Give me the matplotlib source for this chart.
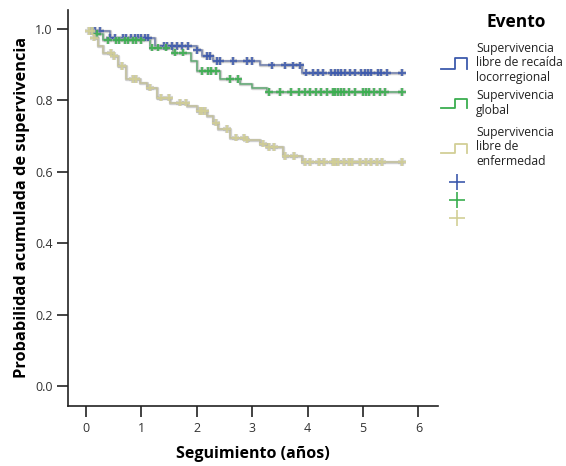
import numpy as np
import matplotlib
matplotlib.use("Agg")
import matplotlib.pyplot as plt
from matplotlib.lines import Line2D
import matplotlib.patheffects as pe

plt.rcParams['font.family'] = ['Open Sans', 'DejaVu Sans']

# ---- data ----
series_names = ["Supervivencia\nlibre de recaída\nlocorregional",
                "Supervivencia\nglobal",
                "Supervivencia\nlibre de\nenfermedad"]
colors = ["#3d5aad", "#3aae4f", "#d2cf96"]
line_colors = ["#6f7fae", "#5fa873", "#c2c09a"]

t_end = 5.7
blue_t = [0.05, 0.43, 1.25, 2.0, 2.1, 2.3, 3.14, 3.9]
blue_s = [0.995, 0.976, 0.953, 0.94, 0.925, 0.91, 0.898, 0.878]
green_t = [0.05, 0.15, 0.3, 1.16, 1.57, 1.9, 2.0, 2.42, 2.78, 2.99, 3.26]
green_s = [0.995, 0.985, 0.968, 0.948, 0.934, 0.91, 0.883, 0.86, 0.846, 0.836, 0.824]
beige_t = [0.05, 0.15, 0.22, 0.3, 0.49, 0.58, 0.73, 0.97, 1.1, 1.28, 1.52, 1.82,
           2.0, 2.18, 2.3, 2.38, 2.6, 2.9, 3.14, 3.26, 3.56, 3.9]
beige_s = [0.995, 0.976, 0.953, 0.934, 0.925, 0.897, 0.86, 0.85, 0.836, 0.808, 0.794, 0.785,
           0.771, 0.757, 0.738, 0.72, 0.696, 0.69, 0.679, 0.669, 0.645, 0.627]

blue_c = [0.16, 0.25, 0.43, 0.52, 0.67, 0.73, 0.82, 0.88, 0.94, 1.0, 1.06, 1.12, 1.40, 1.46,
          1.55, 1.64, 1.73, 1.85, 2.0, 2.18, 2.24, 2.36, 2.42, 2.66, 2.9, 2.99, 3.35, 3.59,
          3.74, 3.86, 3.98, 4.10, 4.19, 4.28, 4.43, 4.49, 4.55, 4.61, 4.67, 4.76, 4.85, 4.97,
          5.03, 5.09, 5.15, 5.27, 5.33, 5.43, 5.70]
green_c = [0.1, 0.2, 0.4, 0.55, 0.6, 0.7, 0.76, 0.85, 0.9, 1.0, 1.2, 1.3, 1.45, 1.6, 1.75,
           2.1, 2.2, 2.25, 2.35, 2.6, 2.75, 3.3, 3.5, 3.7, 3.85, 3.95, 4.05, 4.15, 4.25, 4.35,
           4.45, 4.5, 4.55, 4.6, 4.65, 4.75, 4.85, 5.0, 5.05, 5.1, 5.2, 5.3, 5.4, 5.7]
beige_c = [0.05, 0.1, 0.15, 0.45, 0.5, 0.65, 0.85, 0.9, 1.15, 1.35, 1.5, 1.7, 1.8, 2.05,
           2.1, 2.15, 2.35, 2.55, 2.7, 2.85, 2.9, 3.2, 3.3, 3.4, 3.6, 3.75, 3.95, 4.05, 4.2,
           4.3, 4.45, 4.5, 4.55, 4.65, 4.75, 4.8, 4.95, 5.05, 5.15, 5.25, 5.35, 5.7]

x_ticks = [0, 1, 2, 3, 4, 5, 6]
y_ticks = [0.0, 0.2, 0.4, 0.6, 0.8, 1.0]

# ---- figure ----
fig = plt.figure(figsize=(5.66, 4.66), dpi=100)
ax = fig.add_axes([0.1201, 0.1294, 0.6538, 0.8491])

outline = [pe.Stroke(linewidth=2.4, foreground="#a8a8a8", alpha=0.55), pe.Normal()]
all_data = [(blue_t, blue_s, blue_c), (green_t, green_s, green_c), (beige_t, beige_s, beige_c)]
for (t, s, c), col, lcol in zip(all_data, colors, line_colors):
    tt = np.array(t + [t_end])
    ss = np.array(s + [s[-1]])
    ax.step(tt, ss, where="post", color=lcol, lw=1.1, path_effects=outline, zorder=2)
    c = np.array(c)
    idx = np.searchsorted(np.array(t), c, side="right") - 1
    idx = np.clip(idx, 0, len(s) - 1)
    cv = np.array(s)[idx]
    ax.plot(c, cv, linestyle="none", marker="+", markersize=5.5, mew=1.6, color=col,
            alpha=0.85,
            path_effects=[pe.Stroke(linewidth=3.0, foreground="#b0b0b0", alpha=0.5), pe.Normal()],
            zorder=3)

ax.set_xlim(-0.325, 6.354)
ax.set_ylim(-0.055, 1.053)
ax.set_xticks(x_ticks)
ax.set_xticklabels([str(v) for v in x_ticks])
ax.set_yticks(y_ticks)
ax.set_yticklabels([f"{v:.1f}" for v in y_ticks])
for side in ["top", "right"]:
    ax.spines[side].set_visible(False)
for side in ["left", "bottom"]:
    ax.spines[side].set_linewidth(1.2)
    ax.spines[side].set_color("#222222")
ax.tick_params(axis="both", direction="out", length=8, width=1.2, color="#222222",
               labelsize=9, labelcolor="#333333")
ax.tick_params(axis="x", pad=4)
ax.tick_params(axis="y", pad=3)

ax.set_xlabel("Seguimiento (años)", fontsize=11.5, fontweight="bold", labelpad=8)
ax.set_ylabel("Probabilidad acumulada de supervivencia", fontsize=11.8, fontweight="bold",
              labelpad=4)

# ---- legend (manual) ----
W, H = 566, 466
def fx(px):
    return px / W
def fy(py):
    return 1 - py / H

fig.text(fx(516), fy(22), "Evento", fontsize=12.5, fontweight="bold", ha="center", va="center")
icon_y = [(69, 58), (108, 99), (153, 144)]
text_y = [63, 103, 147]
for (lo, hi), ty, col, name in zip(icon_y, text_y, colors, series_names):
    xs = [441, 455, 455, 467, 467]
    ys = [lo, lo, hi, hi, lo]
    fig.add_artist(Line2D([fx(v) for v in xs], [fy(v) for v in ys], color=col, lw=1.3,
                          transform=fig.transFigure))
    fig.text(fx(476), fy(ty), name, fontsize=8.7, ha="left", va="center",
             color="#222222", linespacing=1.17)
for py, col in zip([182, 200, 218], colors):
    fig.add_artist(Line2D([fx(457)], [fy(py)], marker="+", markersize=12, mew=1.2,
                          color=col, linestyle="none", transform=fig.transFigure))

fig.savefig("out.png", dpi=100)
